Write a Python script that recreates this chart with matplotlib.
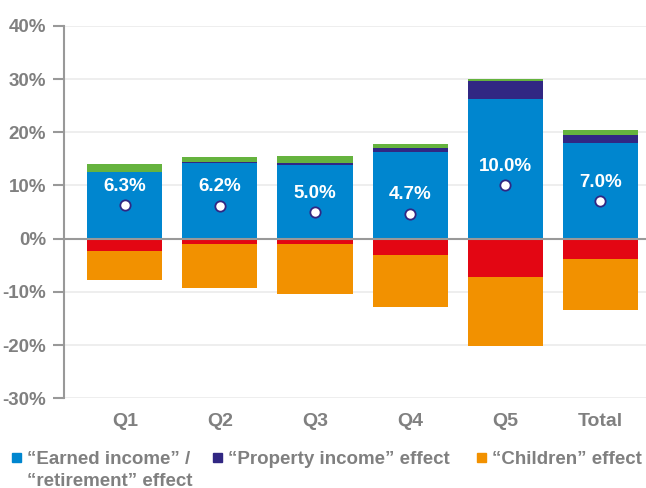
import matplotlib
matplotlib.use("Agg")
import matplotlib.pyplot as plt
from matplotlib.patches import Rectangle
import numpy as np

plt.rcParams["font.family"] = ["Liberation Sans", "DejaVu Sans"]
plt.rcParams["font.weight"] = "bold"

# -- Data (percentage points) ------------------------------
groups = ["Q1", "Q2", "Q3", "Q4", "Q5", "Total"]
earned = [12.45, 14.15, 13.8, 16.2, 26.3, 17.9]
prop = [0.0, 0.35, 0.5, 0.75, 3.4, 1.5]
other_pos = [1.5, 0.8, 1.2, 0.75, 0.4, 1.1]
other_neg = [-2.4, -1.1, -1.1, -3.0, -7.2, -3.9]
children = [-5.45, -8.1, -9.4, -9.9, -13.0, -9.5]
net = [6.3, 6.2, 5.0, 4.7, 10.0, 7.0]

BLUE = "#0086CF"
PURPLE = "#312783"
GREEN = "#65B33E"
RED = "#E30613"
ORANGE = "#F29100"
GREY = "#808080"

fig = plt.figure(figsize=(6.46, 4.88), dpi=100)
ax = fig.add_axes([0.099, 0.184, 0.901, 0.763])

x = np.arange(len(groups))
w = 0.79
earned = np.array(earned)
prop = np.array(prop)
other_neg = np.array(other_neg)

ax.bar(x, earned, w, color=BLUE, zorder=3)
ax.bar(x, prop, w, bottom=earned, color=PURPLE, zorder=3)
ax.bar(x, other_pos, w, bottom=earned + prop, color=GREEN, zorder=3)
ax.bar(x, other_neg, w, color=RED, zorder=3)
ax.bar(x, children, w, bottom=other_neg, color=ORANGE, zorder=3)

ax.scatter(x, net, s=55, color="white", edgecolor=PURPLE, linewidth=1.3, zorder=5)
for xi, v in zip(x, net):
    ax.annotate(f"{v:.1f}%", (xi, v), xytext=(0, 13.5), textcoords="offset points",
                ha="center", va="center", color="white", fontsize=13.5,
                fontweight="bold", zorder=6)

ax.axhline(0, color="#999999", linewidth=1.5, zorder=4)

ax.set_xlim(-0.64, 5.48)
ax.set_ylim(-30, 40)
ax.set_yticks(np.arange(-30, 41, 10))
ax.set_yticklabels([f"{t}%" for t in range(-30, 41, 10)])
ax.set_xticks(x)
ax.set_xticklabels(groups)
ax.grid(axis="y", color="#ebebeb", linewidth=1.2, zorder=0)
for s in ["top", "right", "bottom"]:
    ax.spines[s].set_visible(False)
ax.spines["left"].set_color("#999999")
ax.spines["left"].set_linewidth(1.5)
ax.tick_params(axis="y", length=8, width=1.5, color="#999999", labelcolor=GREY,
               labelsize=13.5, pad=5)
ax.tick_params(axis="x", length=0, labelcolor=GREY, labelsize=14, pad=11)

# -- Legend (manual, pixel positions) ----------------------
W, H = 646, 488
legend_items = [
    (BLUE, 11.5, ["\u201cEarned income\u201d /", "\u201cretirement\u201d effect"]),
    (PURPLE, 213, ["\u201cProperty income\u201d effect"]),
    (ORANGE, 477, ["\u201cChildren\u201d effect"]),
]
for color, px, lines in legend_items:
    fig.patches.append(Rectangle((px / W, 1 - 462 / H), 9 / W, 9 / H,
                                 transform=fig.transFigure, color=color))
    for i, line in enumerate(lines):
        fig.text((px + 15.5) / W, 1 - (459 + 22 * i) / H, line, ha="left",
                 va="center", color=GREY, fontsize=13.5, fontweight="bold")

fig.savefig("out.png", dpi=100)
